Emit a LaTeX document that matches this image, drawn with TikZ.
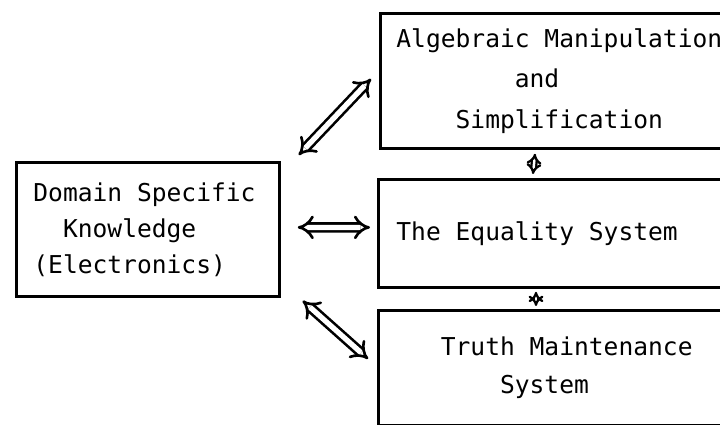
\documentclass[tikz,border=0pt]{standalone}
\usepackage{fontspec}
\setmonofont{DejaVu Sans Mono}
\usepackage{tikz}
\usetikzlibrary{arrows.meta}

\newcommand{\boxfont}[1]{\ttfamily\fontsize{14}{#1}\selectfont}
% fixed-pitch word spaces (align=left would set them to .333em)
\newcommand{\fullspace}{\spaceskip=0pt\xspaceskip=0pt\relax}

\tikzset{
  block/.style={draw, line width=1.6pt, anchor=north west, align=left,
                inner ysep=0pt, text width=7.4cm, inner xsep=0.34cm,
                execute at begin node=\fullspace},
  dbl/.style={double, double distance=3pt, line width=1.5pt,
              {Implies[scale=1.25]}-{Implies[scale=1.25]}},
  tiny dbl/.style={double, double distance=1.4pt, line width=1.3pt,
              {Implies}-{Implies}}
}

\begin{document}
\begin{tikzpicture}[x=0.02cm, y=-0.02cm]
  \useasboundingbox (0,0) rectangle (720,425);

  % the four boxes
  \node[block, text width=4.58cm, minimum height=2.68cm,
        font=\boxfont{20.5}]
        (dsk) at (15,161)
        {Domain Specific\\\phantom{xx}Knowledge\\(Electronics)};
  \node[block, inner xsep=0.32cm, minimum height=2.70cm,
        font=\boxfont{23}]
        (alg) at (379,12)
        {Algebraic Manipulation\\\phantom{xxxxxxxx}and\\\phantom{xxxx}Simplification};
  \node[block, inner xsep=0.36cm, minimum height=2.16cm,
        font=\boxfont{22}]
        (eqs) at (377,178)
        {The Equality System};
  \node[block, inner xsep=0.36cm, minimum height=2.30cm,
        font=\boxfont{21.5}]
        (tms) at (377,309)
        {\phantom{xxx}Truth Maintenance\\\phantom{xxxxxxx}System};

  % links to the knowledge box
  \draw[dbl] ([shift={(18,-6)}]dsk.north east) -- ([shift={(-8,-2)}]alg.west);
  \draw[dbl] ([shift={(17,-2)}]dsk.east) -- ([shift={(-7,-6)}]eqs.west);
  \draw[dbl] ([shift={(22,3)}]dsk.south east) -- ([shift={(-9,-9)}]tms.west);

  % links between the stacked boxes
  \draw[tiny dbl] ([shift={(156,4)}]alg.south west) -- ([shift={(156,-4)}]eqs.north west);
  \draw[tiny dbl] ([shift={(159,3)}]eqs.south west) -- ([shift={(159,-3)}]tms.north west);
\end{tikzpicture}
\end{document}
